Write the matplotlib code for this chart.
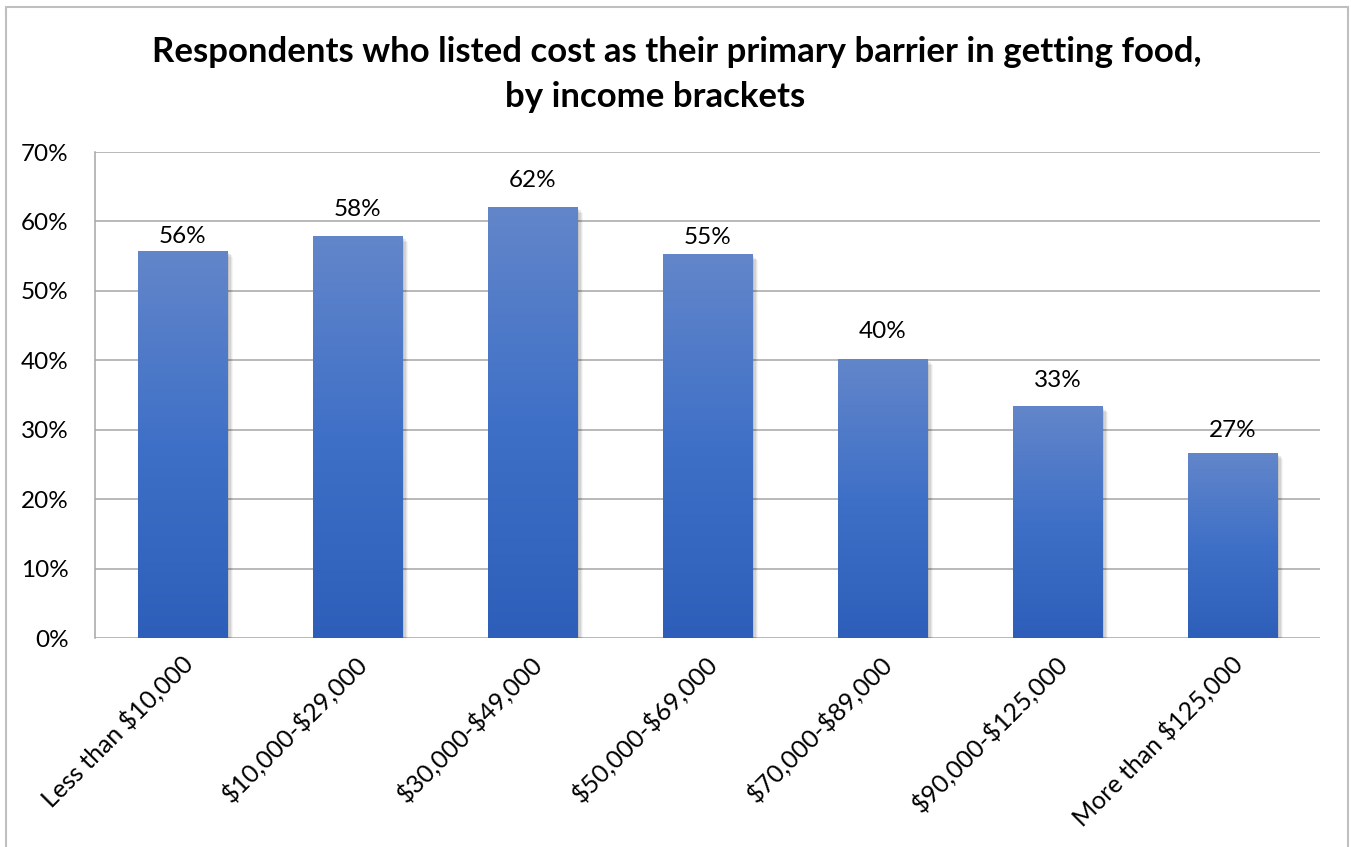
import matplotlib
matplotlib.use("Agg")
import matplotlib.pyplot as plt
import matplotlib.patheffects as pe
from matplotlib.patches import Rectangle
from matplotlib.colors import LinearSegmentedColormap
import numpy as np

categories = ["Less than $10,000", "$10,000-$29,000", "$30,000-$49,000",
              "$50,000-$69,000", "$70,000-$89,000", "$90,000-$125,000",
              "More than $125,000"]
values = [55.8, 57.9, 62.1, 55.3, 40.2, 33.4, 26.7]
yticks = [0, 10, 20, 30, 40, 50, 60, 70]
title_line1 = "Respondents who listed cost as their primary barrier in getting food,"
title_line2 = "by income brackets"

# style: vertical gap (pixels) between bar top and data-label centre
label_gap_px = [14, 27, 26, 17, 27, 26, 22]

W, H, DPI = 1351, 847, 100
FONT = "Lato"
FS = 17.5
fig = plt.figure(figsize=(W / DPI, H / DPI), dpi=DPI)
fig.patch.set_facecolor("white")

# figure border
fig.patches.append(Rectangle((6 / W, -0.01), (1348 - 6) / W, 1 - 7 / H + 0.01,
                             transform=fig.transFigure, fill=False,
                             edgecolor="#bfbfbf", lw=1.5, zorder=0))

ax = fig.add_axes([95 / W, 1 - 638 / H, (1320 - 95) / W, (638 - 152) / H])
ax.set_xlim(-0.5, len(categories) - 0.5)
ax.set_ylim(0, 70)
ax.set_yticks(yticks)
ax.set_yticklabels([f"{t}%" for t in yticks], fontsize=FS, family=FONT)
ax.tick_params(axis="y", length=0, pad=19)
ax.tick_params(axis="x", length=0)
ax.set_xticks([])
for s in ["top", "right", "bottom"]:
    ax.spines[s].set_visible(False)
ax.spines["left"].set_color("#a6a6a6")
ax.spines["left"].set_linewidth(1.1)
ax.grid(axis="y", color="#a6a6a6", lw=1.1, zorder=0)
ax.set_axisbelow(True)

cmap = LinearSegmentedColormap.from_list(
    "g", [(0.0, "#2d5fba"), (0.5, "#3f70c7"), (1.0, "#6386ca")])
grad = np.linspace(0, 1, 256).reshape(-1, 1)

bw = 0.51
shadow = [pe.SimplePatchShadow(offset=(o, -o), shadow_rgbFace="#000000", alpha=a)
          for o, a in [(4.5, 0.04), (3.5, 0.06), (2.5, 0.08), (1.5, 0.08)]]
bars = ax.bar(range(len(categories)), values, width=bw, color="#4472c4",
              zorder=2, path_effects=shadow + [pe.Normal()])
for i, (b, v) in enumerate(zip(bars, values)):
    x0 = b.get_x()
    im = ax.imshow(grad, extent=[x0, x0 + bw, 0, v], origin="lower",
                   cmap=cmap, aspect="auto", zorder=3)
    im.set_clip_path(b)
    ax.annotate(f"{round(v)}%", xy=(i, v), xycoords="data",
                xytext=(0, label_gap_px[i]), textcoords="offset pixels",
                ha="center", va="center", fontsize=FS, family=FONT, zorder=4)
ax.set_xlim(-0.5, len(categories) - 0.5)
ax.set_ylim(0, 70)

# category labels rotated
for i, c in enumerate(categories):
    ax.annotate(c, xy=(i, 0), xycoords="data", xytext=(6, -22),
                textcoords="offset pixels", rotation=45, rotation_mode="anchor",
                ha="right", va="center", fontsize=FS + 0.5, family=FONT,
                parse_math=False)

# title with width fitting
t1 = fig.text(677 / W, 1 - 52 / H, title_line1, ha="center", va="center",
              fontsize=24, family=FONT, weight="bold")
t2 = fig.text(655 / W, 1 - 97 / H, title_line2, ha="center", va="center",
              fontsize=24, family=FONT, weight="bold")
fig.canvas.draw()
r = fig.canvas.get_renderer()
w1 = t1.get_window_extent(r).width
fs = 24 * 1051 / w1
t1.set_fontsize(fs)
t2.set_fontsize(fs)

fig.savefig("out.png", dpi=DPI, facecolor="white")
